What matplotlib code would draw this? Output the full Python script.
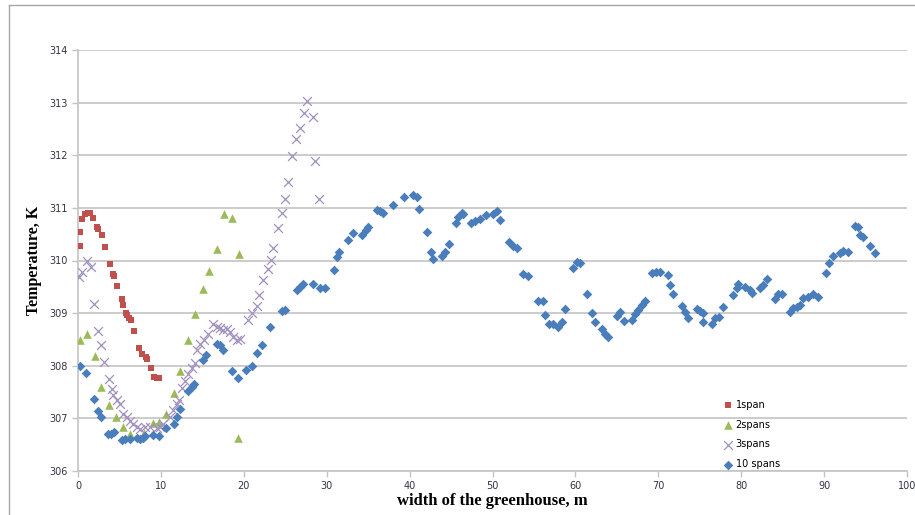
import numpy as np
import matplotlib
matplotlib.use("Agg")
import matplotlib.pyplot as plt
from matplotlib.lines import Line2D

# 1 span
x1 = [0.24, 0.3, 0.45, 0.85, 1.25, 1.45, 1.85, 2.25, 2.45, 2.85, 3.26, 3.86, 4.18, 4.34,
      4.74, 5.27, 5.39, 5.79, 5.95, 6.19, 6.36, 6.76, 7.36, 7.76, 8.2, 8.36, 8.8, 9.2, 9.49, 9.8]
y1 = [310.27, 310.55, 310.78, 310.88, 310.91, 310.9, 310.8, 310.64, 310.6, 310.48, 310.25,
      309.94, 309.75, 309.71, 309.51, 309.27, 309.15, 309.01, 308.97, 308.9, 308.87, 308.66,
      308.33, 308.22, 308.16, 308.13, 307.96, 307.79, 307.77, 307.76]

# 2 spans
x2 = [0.24, 1.05, 2.05, 2.74, 3.78, 4.55, 5.47, 6.27, 8.0, 9.09, 9.8, 10.57, 11.58, 12.3,
      13.23, 14.11, 15.12, 15.8, 16.73, 17.65, 18.61, 19.42, 19.34]
y2 = [308.49, 308.6, 308.18, 307.6, 307.26, 307.03, 306.84, 306.71, 306.73, 306.91, 306.93,
      307.09, 307.49, 307.9, 308.49, 308.98, 309.46, 309.8, 310.22, 310.88, 310.8, 310.12, 306.63]

# 3 spans
x3 = [0.16, 0.45, 1.05, 1.57, 1.93, 2.37, 2.74, 3.18, 3.74, 4.06, 4.26, 4.66, 5.07, 5.39,
      5.87, 6.27, 6.59, 7.08, 7.48, 8.08, 8.68, 9.49, 9.89, 10.29, 11.1, 11.5, 11.9, 12.22,
      12.5, 12.9, 13.3, 13.7, 14.11, 14.31, 14.72, 15.24, 15.72, 16.32, 16.73, 17.13, 17.53,
      17.93, 18.34, 18.74, 19.14, 19.54, 20.5, 21.0, 21.55, 21.87, 22.35, 22.88, 23.24,
      23.56, 24.16, 24.57, 24.97, 25.37, 25.85, 26.3, 26.78, 27.26, 27.66, 28.31, 28.59, 29.03]
y3 = [309.69, 309.79, 310.0, 309.87, 309.17, 308.66, 308.39, 308.07, 307.74, 307.55, 307.44,
      307.35, 307.28, 307.09, 307.02, 306.95, 306.9, 306.84, 306.79, 306.84, 306.83, 306.81,
      306.84, 306.9, 307.03, 307.16, 307.27, 307.35, 307.57, 307.71, 307.85, 307.95, 308.05,
      308.3, 308.42, 308.49, 308.61, 308.79, 308.74, 308.71, 308.68, 308.69, 308.64, 308.55,
      308.49, 308.5, 308.87, 309.0, 309.13, 309.34, 309.63, 309.83, 310.01, 310.23, 310.62,
      310.91, 311.17, 311.5, 311.98, 312.3, 312.51, 312.81, 313.04, 312.72, 311.89, 311.17]

# 10 spans
x10 = [0.24, 0.97, 1.97, 2.37, 2.74, 3.58, 3.94, 4.34, 5.27, 5.67, 6.27, 7.08, 7.48, 7.88,
       8.08, 9.09, 9.8, 10.62, 11.62, 11.9, 12.3, 13.23, 13.7, 14.03, 15.12, 15.44, 16.73,
       17.13, 17.53, 18.61, 19.34, 20.3, 21.0, 21.6, 22.2, 23.16, 24.6, 24.97, 26.38, 26.78,
       27.18, 28.31, 29.19, 29.8, 30.88, 31.2, 31.52, 32.6, 33.2, 34.22, 34.74, 35.02, 36.1,
       36.43, 36.83, 37.96, 39.3, 40.37, 40.86, 41.17, 42.06, 42.54, 42.86, 43.87, 44.27,
       44.75, 45.56, 45.87, 46.28, 46.47, 47.37, 47.89, 48.49, 49.22, 50.1, 50.5, 50.9, 52.03,
       52.5, 52.9, 53.7, 54.3, 55.5, 56.05, 56.33, 56.85, 57.34, 57.94, 58.35, 58.75, 59.75,
       60.15, 60.55, 61.44, 61.96, 62.36, 63.17, 63.57, 63.97, 64.98, 65.38, 65.9, 66.79,
       67.19, 67.59, 68.0, 68.4, 69.2, 69.72, 70.2, 71.13, 71.41, 71.81, 72.82, 73.22, 73.62,
       74.63, 75.03, 75.36, 75.43, 76.44, 76.84, 77.36, 77.84, 79.05, 79.46, 79.65, 80.46,
       81.06, 81.27, 82.27, 82.67, 83.15, 84.08, 84.48, 84.88, 85.89, 86.29, 86.7, 87.09,
       87.49, 88.1, 88.7, 89.3, 90.23, 90.63, 91.04, 91.92, 92.32, 92.92, 93.73, 94.13,
       94.33, 94.73, 95.54, 96.14]
y10 = [308.0, 307.87, 307.37, 307.14, 307.02, 306.71, 306.7, 306.74, 306.59, 306.6, 306.6,
       306.63, 306.6, 306.62, 306.67, 306.68, 306.67, 306.81, 306.89, 307.02, 307.17, 307.52,
       307.59, 307.65, 308.11, 308.2, 308.42, 308.39, 308.3, 307.9, 307.77, 307.92, 308.0,
       308.25, 308.4, 308.74, 309.04, 309.06, 309.44, 309.5, 309.56, 309.55, 309.47, 309.47,
       309.82, 310.07, 310.17, 310.39, 310.52, 310.48, 310.58, 310.64, 310.96, 310.95, 310.91,
       311.05, 311.2, 311.24, 311.21, 310.97, 310.55, 310.17, 310.02, 310.08, 310.17, 310.31,
       310.71, 310.83, 310.9, 310.88, 310.72, 310.76, 310.78, 310.86, 310.88, 310.94, 310.77,
       310.36, 310.27, 310.23, 309.75, 309.7, 309.23, 309.23, 308.96, 308.79, 308.79, 308.74,
       308.83, 309.07, 309.86, 309.98, 309.95, 309.36, 309.01, 308.83, 308.69, 308.61, 308.54,
       308.94, 309.03, 308.85, 308.87, 308.98, 309.06, 309.15, 309.23, 309.76, 309.79, 309.79,
       309.72, 309.53, 309.36, 309.13, 309.03, 308.9, 309.07, 309.04, 309.01, 308.83, 308.79,
       308.9, 308.93, 309.11, 309.34, 309.47, 309.56, 309.5, 309.44, 309.39, 309.47, 309.53,
       309.64, 309.26, 309.36, 309.37, 309.03, 309.09, 309.11, 309.15, 309.28, 309.3, 309.37,
       309.3, 309.77, 309.96, 310.08, 310.15, 310.18, 310.17, 310.65, 310.64, 310.48, 310.44,
       310.27, 310.15]

fig = plt.figure(figsize=(9.15, 5.15), dpi=100)
ax = fig.add_axes([78/915, 1 - 471/515, (907 - 78)/915, (471 - 50)/515])

ax.scatter(x1, y1, marker='s', s=14, color='#C0504D', label='1span', zorder=3, linewidths=0)
ax.scatter(x2, y2, marker='^', s=38, color='#9BBB59', label='2spans', zorder=3, linewidths=0)
ax.scatter(x3, y3, marker='x', s=40, color='#A190C0', label='3spans', zorder=3, linewidths=0.9)
ax.scatter(x10, y10, marker='D', s=24, color='#4A7EBB', label='10 spans', zorder=4, linewidths=0)

ax.set_xlim(0, 100)
ax.set_ylim(306, 314)
ax.set_xticks(np.arange(0, 101, 10))
ax.set_yticks(np.arange(306, 315, 1))
ax.grid(axis='y', color='#C4C4C4', linewidth=1.2)
ax.set_axisbelow(True)
for s in ['top', 'right']:
    ax.spines[s].set_visible(False)
for s in ['left', 'bottom']:
    ax.spines[s].set_color('#C4C4C4')
    ax.spines[s].set_linewidth(1.2)
ax.tick_params(colors='#C4C4C4', labelcolor='#333344', labelsize=7, length=4, width=1)

ax.set_ylabel('Temperature, K', family='Liberation Serif', fontweight='bold', fontsize=11.5, labelpad=5)
ax.set_xlabel('width of the greenhouse, m', family='Liberation Serif', fontweight='bold', fontsize=12, labelpad=1)

ax.legend(loc='upper left', bbox_to_anchor=(718/915, 1 - 396/515), bbox_transform=fig.transFigure,
          frameon=False, fontsize=7, handletextpad=0.2, labelspacing=1.0, handlelength=1.2,
          borderaxespad=0)

# chart border
fig.add_artist(Line2D([9/915, 9/915], [0, 1 - 5/515], color='#A6A6A6', lw=1, transform=fig.transFigure))
fig.add_artist(Line2D([9/915, 1], [1 - 5/515, 1 - 5/515], color='#A6A6A6', lw=1, transform=fig.transFigure))

fig.savefig('out.png', dpi=100)
